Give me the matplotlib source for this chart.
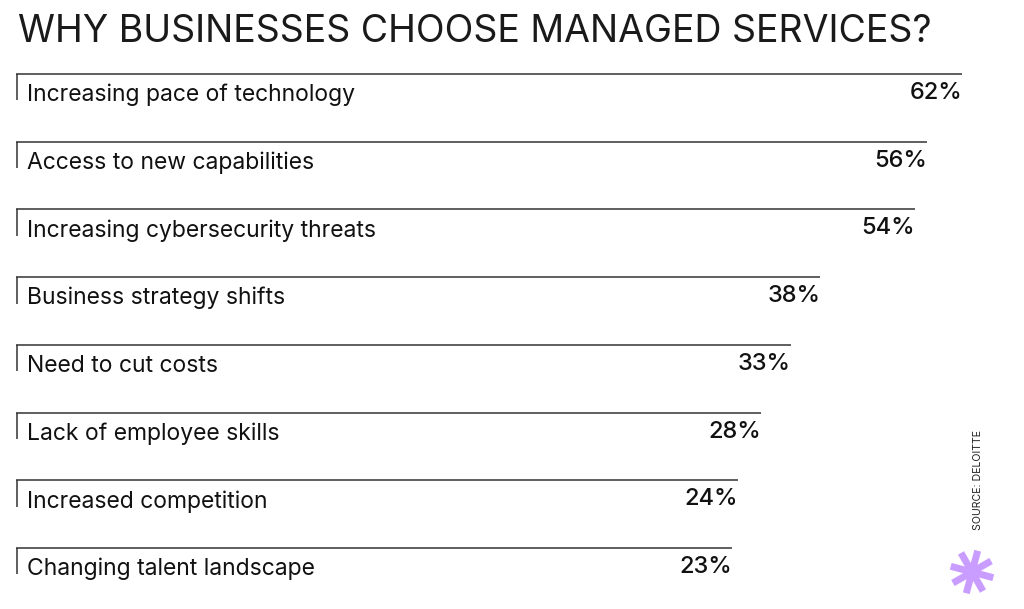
import matplotlib
matplotlib.use("Agg")
import matplotlib.pyplot as plt
import numpy as np

categories = ["Increasing pace of technology", "Access to new capabilities",
              "Increasing cybersecurity threats", "Business strategy shifts",
              "Need to cut costs", "Lack of employee skills",
              "Increased competition", "Changing talent landscape"]
values = [62, 56, 54, 38, 33, 28, 24, 23]
title = "WHY BUSINESSES CHOOSE MANAGED SERVICES?"
source = "SOURCE: DELOITTE"

W, H = 1024, 609
fig = plt.figure(figsize=(W/100, H/100), dpi=100)
fig.patch.set_facecolor("white")

ax = fig.add_axes([16/W, 0, (1000-16)/W, 1])
ax.set_axis_off()
XMIN, XMAX = -98.1, 68.4
ax.set_xlim(XMIN, XMAX)
ax.set_ylim(7.90, -1.093)

font = "Inter"
line_color = "#333333"
for i, (cat, v) in enumerate(zip(categories, values)):
    ax.hlines(i, XMIN, v, color=line_color, lw=1.1)
    ax.vlines(XMIN + 0.15, i, i + 0.39, color=line_color, lw=1.1)
    ax.text(XMIN + 1.9, i + 0.31, cat, fontsize=16.5, family=font,
            color="#111111", va="center", ha="left")
    ax.text(v, i + 0.28, f"{v}%", fontsize=17, family=font, weight="medium",
            color="#111111", va="center", ha="right")

fig.text(18/W, 1 - 32/H, title, fontsize=27, family=font, color="#1a1a1a",
         va="center", ha="left")
fig.text(978/W, 1 - 480/H, source, fontsize=7.6, family=font, color="#222222",
         rotation=90, va="center", ha="center")

# decorative asterisk
cx, cy = 972, 572
r = 22
for ang in np.arange(0, 180, 45) + 15:
    a = np.deg2rad(ang)
    xs = [cx - r*np.cos(a), cx + r*np.cos(a)]
    ys = [cy - r*np.sin(a), cy + r*np.sin(a)]
    fig.add_artist(plt.Line2D([x/W for x in xs], [1 - y/H for y in ys],
                              color="#c99cff", lw=5, solid_capstyle="butt"))

fig.savefig("out.png", dpi=100, facecolor="white")
